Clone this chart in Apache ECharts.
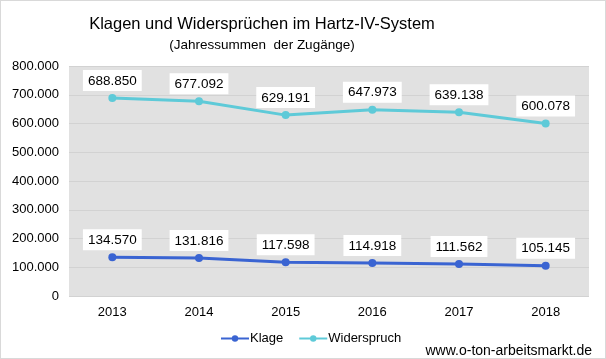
<!DOCTYPE html>
<html><head><meta charset="utf-8">
<script src="https://cdn.jsdelivr.net/npm/echarts@6/dist/echarts.min.js"></script>
<style>html,body{margin:0;padding:0;background:#fff}#c{width:604px;height:357px;border:1px solid #d9d9d9}</style>
</head><body><div id="c"></div>
<script>
const categories = ['2013','2014','2015','2016','2017','2018'];
const klage = [134570,131816,117598,114918,111562,105145];
const widerspruch = [688850,677092,629191,647973,639138,600078];
const yTicks = [0,100000,200000,300000,400000,500000,600000,700000,800000];
const fmt = v => v === 0 ? '0' : String(v).replace(/\B(?=(\d{3})+(?!\d))/g, '.');
const F = '"Liberation Sans", Arial, sans-serif';
const chart = echarts.init(document.getElementById('c'));
const lbl = {show:true, position:'top', distance:3, formatter:p=>fmt(p.value), color:'#000', fontFamily:F, fontSize:13.5, backgroundColor:'#fff', padding:[4,5,3,5]};
chart.setOption({
  animation:false,
  title:[{text:'Klagen und Widersprüchen im Hartz-IV-System', left:256, textAlign:'center', top:10, textStyle:{fontFamily:F, fontSize:16.5, fontWeight:'normal', color:'#000'}},
         {text:'(Jahressummen  der Zugänge)', left:256, textAlign:'center', top:32, textStyle:{fontFamily:F, fontSize:13.5, fontWeight:'normal', color:'#000'}},
         {text:'www.o-ton-arbeitsmarkt.de', right:8, top:338, textStyle:{fontFamily:F, fontSize:14, fontWeight:'normal', color:'#000'}}],
  legend:{top:326, left:214, itemWidth:28, itemHeight:8, itemGap:15, textStyle:{fontFamily:F, fontSize:13, color:'#000', padding:[0,0,0,-4]}, data:['Klage','Widerspruch']},
  grid:{left:68, right:16, top:65, bottom:62, backgroundColor:'#e1e1e1', show:true, borderWidth:0},
  xAxis:{type:'category', data:categories, boundaryGap:true, axisLine:{show:false}, axisTick:{show:false}, axisLabel:{fontFamily:F, fontSize:13, color:'#000', margin:10}},
  yAxis:{type:'value', min:0, max:800000, interval:100000, axisLabel:{fontFamily:F, fontSize:13, color:'#000', margin:10, formatter:v=>fmt(v)}, splitLine:{lineStyle:{color:'#d2d2d2', width:1}}},
  series:[
    {name:'Klage', type:'line', data:klage, color:'#3a64d2', symbol:'circle', symbolSize:8, lineStyle:{width:3}, label:lbl},
    {name:'Widerspruch', type:'line', data:widerspruch, color:'#5ecad8', symbol:'circle', symbolSize:8, lineStyle:{width:3}, label:lbl}
  ]
});
</script></body></html>
